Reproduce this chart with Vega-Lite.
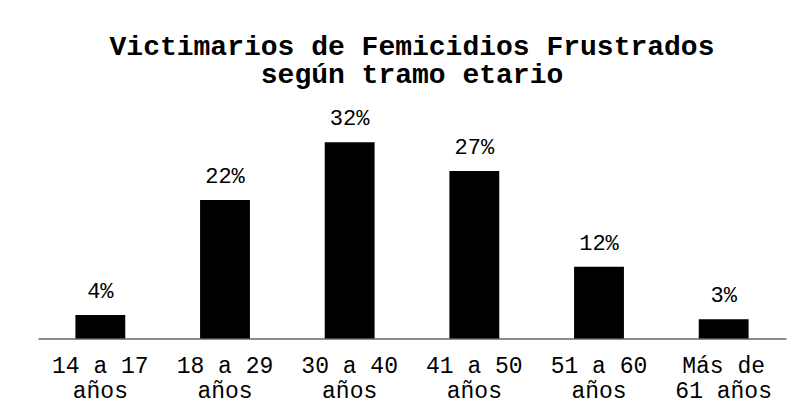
{
  "$schema": "https://vega.github.io/schema/vega-lite/v6.json",
  "autosize": {"type": "none"},
  "width": 748,
  "height": 220,
  "padding": {"left": 38, "right": 17, "top": 118.5, "bottom": 74.5},
  "background": "white",
  "config": {"view": {"stroke": null}, "font": "Liberation Mono"},
  "title": {
    "text": ["Victimarios de Femicidios Frustrados", "según tramo etario"],
    "font": "Liberation Mono",
    "fontSize": 28,
    "fontWeight": "bold",
    "color": "black",
    "lineHeight": 28,
    "anchor": "middle",
    "offset": 18
  },
  "data": {
    "values": [
      {"tramo": "14 a 17 años", "pct": 0.0381},
      {"tramo": "18 a 29 años", "pct": 0.2248},
      {"tramo": "30 a 40 años", "pct": 0.3185},
      {"tramo": "41 a 50 años", "pct": 0.2719},
      {"tramo": "51 a 60 años", "pct": 0.1166},
      {"tramo": "Más de 61 años", "pct": 0.0312}
    ]
  },
  "encoding": {
    "x": {
      "field": "tramo",
      "type": "nominal",
      "sort": null,
      "scale": {"paddingInner": 0.6, "paddingOuter": 0.3},
      "axis": {
        "title": null,
        "labelAngle": 0,
        "labelFont": "Liberation Mono",
        "labelFontSize": 23,
        "labelColor": "black",
        "labelLineHeight": 25,
        "labelPadding": 16,
        "ticks": false,
        "domainColor": "#8c8c8c",
        "domainWidth": 2,
        "labelExpr": "datum.label == 'Más de 61 años' ? ['Más de', '61 años'] : [replace(datum.label, ' años', ''), 'años']"
      }
    },
    "y": {
      "field": "pct",
      "type": "quantitative",
      "scale": {"domain": [0, 0.357]},
      "axis": null
    }
  },
  "layer": [
    {"mark": {"type": "bar", "color": "black"}},
    {
      "mark": {"type": "text", "baseline": "alphabetic", "dy": -17, "font": "Liberation Mono", "fontSize": 22, "color": "black"},
      "encoding": {"text": {"field": "pct", "type": "quantitative", "format": ".0%"}}
    }
  ]
}
